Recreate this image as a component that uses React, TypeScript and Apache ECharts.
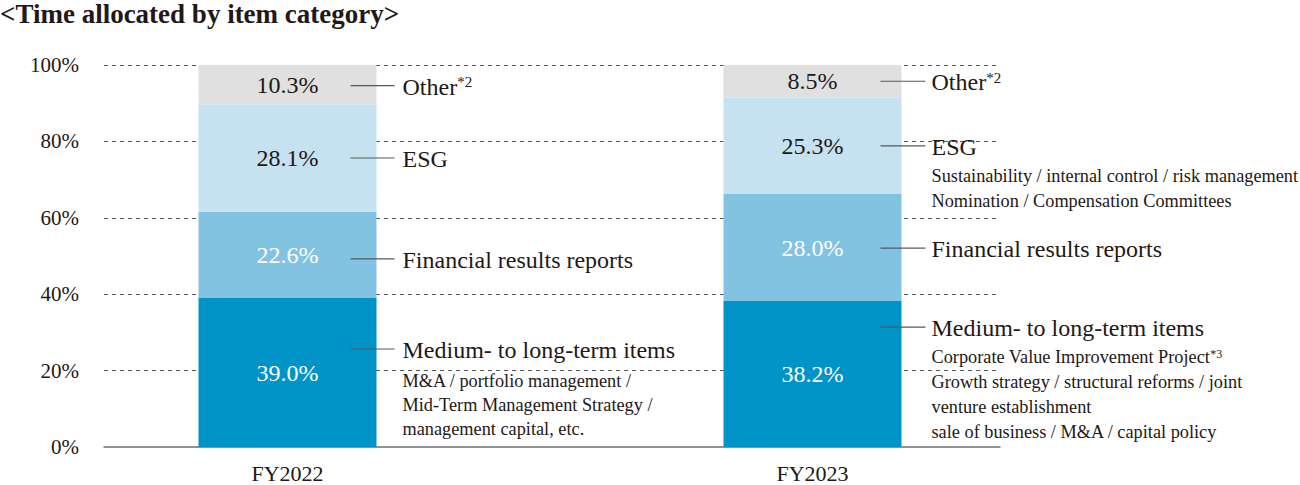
import React, { useEffect, useRef } from "react";
import * as echarts from "echarts";

const categories = ["FY2022", "FY2023"];
const seriesNames = ["Medium- to long-term items", "Financial results reports", "ESG", "Other"];
const mediumLongTerm = [39.0, 38.2];
const financialResults = [22.6, 28.0];
const esg = [28.1, 25.3];
const other = [10.3, 8.5];
const yTickSuffix = "%";

const labelTitles = ["Medium- to long-term items", "Financial results reports", "ESG", "Other{sup|*2}"];
const notesFY2022Medium = ["M&A / portfolio management /", "Mid-Term Management Strategy /", "management capital, etc."];
const notesFY2023Esg = ["Sustainability / internal control / risk management", "Nomination / Compensation Committees"];
const notesFY2023Medium = [
  "Corporate Value Improvement Project{sup|*3}",
  "Growth strategy / structural reforms / joint",
  "venture establishment",
  "sale of business / M&A / capital policy",
];
// notes[category][series]
const notes: string[][][] = [
  [notesFY2022Medium, [], [], []],
  [notesFY2023Medium, [], notesFY2023Esg, []],
];

// layout constants (pixels)
const FONT = "'Liberation Serif', 'Times New Roman', serif";
const TEXT = "#231815";
const COLORS = ["#0093c8", "#82c3e1", "#c6e2f1", "#e0e0e0"];
const LABEL_COLORS = ["#ffffff", "#ffffff", TEXT, TEXT];
const BAR_WIDTH = 178;
const leaderStart = [-26, -21];
const leaderEnd = [18, 24];
const textGap = [26, 30];
const leaderDy = [
  [-23.5, 4, 0, 1],
  [-47, 0.5, 0, 0],
];
const noteFirst = [32, 30];
const noteStep = [24, 25];

export default function App() {
  const ref = useRef<HTMLDivElement>(null);
  useEffect(() => {
    if (!ref.current) return;
    const chart = echarts.init(ref.current, undefined, { renderer: "svg" });
    const values = [mediumLongTerm, financialResults, esg, other];
    const option: any = {
      animation: false,
      title: {
        text: "<Time allocated by item category>",
        left: 0,
        top: 0,
        padding: 0,
        textStyle: { fontFamily: FONT, fontSize: 27, fontWeight: "bold", color: TEXT },
      },
      grid: [
        { left: 104, top: 65, width: 896, height: 382, outerBoundsMode: "none", containLabel: false },
        { left: 25, top: 65, width: 1050, height: 382, outerBoundsMode: "none", containLabel: false },
      ],
      xAxis: [
        {
          gridIndex: 0,
          type: "category",
          data: categories,
          axisLine: { show: true, lineStyle: { color: "#6e6e6e", width: 1.5 } },
          axisTick: { show: false },
          axisLabel: { show: false },
        },
        {
          gridIndex: 1,
          type: "category",
          data: categories,
          axisLine: { show: false },
          axisTick: { show: false },
          axisLabel: { fontFamily: FONT, fontSize: 22, color: TEXT, margin: 15 },
        },
      ],
      yAxis: [
        {
          gridIndex: 0,
          type: "value",
          min: 0,
          max: 100,
          interval: 20,
          axisLine: { show: false },
          axisTick: { show: false },
          axisLabel: {
            formatter: "{value}" + yTickSuffix,
            fontFamily: FONT,
            fontSize: 21,
            color: TEXT,
            margin: 25,
          },
          splitLine: { show: true, showMinLine: false, lineStyle: { type: [4, 4], color: "#555555", width: 1 } },
        },
        { gridIndex: 1, type: "value", min: 0, max: 100, show: false, splitLine: { show: false } },
      ],
      series: seriesNames.map((name, s) => ({
        name,
        type: "bar",
        stack: "total",
        xAxisIndex: 1,
        yAxisIndex: 1,
        barWidth: BAR_WIDTH,
        data: values[s],
        itemStyle: { color: COLORS[s] },
        label: {
          show: true,
          position: "inside",
          formatter: (p: any) => Number(p.value).toFixed(1) + "%",
          fontFamily: FONT,
          fontSize: 24,
          color: LABEL_COLORS[s],
        },
      })),
    };
    chart.setOption(option);

    const graphics: any[] = [];
    const rich = { sup: { fontFamily: FONT, fontSize: 15, fill: TEXT, verticalAlign: "top", padding: [0, 0, 6, 0] } };
    categories.forEach((_, c) => {
      const cx = chart.convertToPixel({ xAxisIndex: 1 } as any, c) as unknown as number;
      const right = cx + BAR_WIDTH / 2;
      let base = 0;
      values.forEach((vals, s) => {
        const v = vals[c];
        const mid = base + v / 2;
        base += v;
        const y = (chart.convertToPixel({ yAxisIndex: 1 } as any, mid) as unknown as number) + leaderDy[c][s];
        graphics.push({
          type: "line",
          z: 100,
          shape: { x1: right + leaderStart[c], y1: y, x2: right + leaderEnd[c], y2: y },
          style: { stroke: "#595959", lineWidth: 1.2 },
        });
        graphics.push({
          type: "text",
          z: 100,
          x: right + textGap[c],
          y: y + 1,
          style: {
            text: labelTitles[s],
            fontFamily: FONT,
            fontSize: 24,
            fill: TEXT,
            verticalAlign: "middle",
            rich,
          },
        });
        notes[c][s].forEach((line, k) => {
          graphics.push({
            type: "text",
            z: 100,
            x: right + textGap[c],
            y: y + noteFirst[c] + k * noteStep[c],
            style: {
              text: line,
              fontFamily: FONT,
              fontSize: 18.3,
              fill: TEXT,
              verticalAlign: "middle",
              backgroundColor: "#ffffff",
              rich: { sup: { fontFamily: FONT, fontSize: 12, fill: TEXT, verticalAlign: "top", padding: [0, 0, 5, 0] } },
            },
          });
        });
      });
    });
    chart.setOption({ graphic: graphics });

    return () => chart.dispose();
  }, []);
  return (
    <div
      ref={ref}
      style={{ position: "absolute", left: 0, top: 0, width: 1300, height: 485, background: "#ffffff" }}
    />
  );
}
